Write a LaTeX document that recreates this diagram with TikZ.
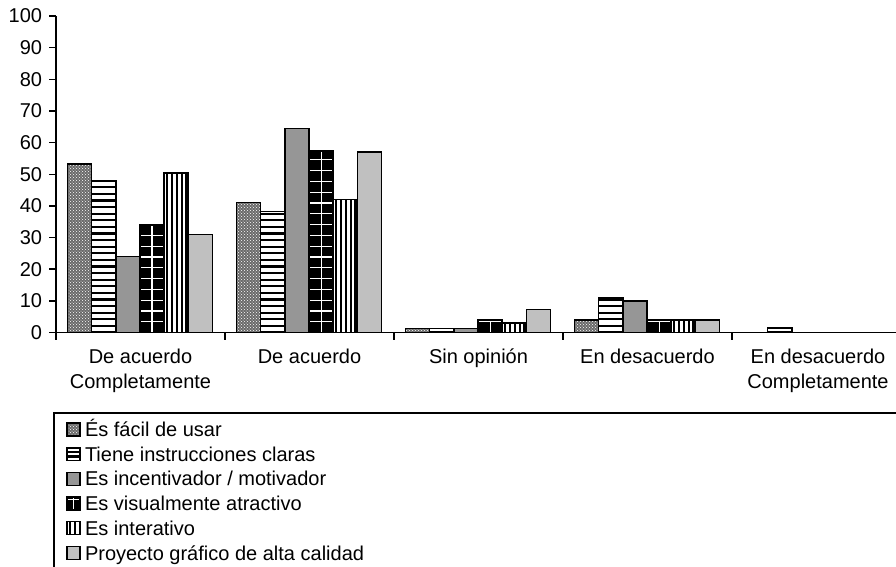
\documentclass[tikz,border=0pt]{standalone}
\usepackage{fontspec}
\setmainfont{Liberation Sans}
\usetikzlibrary{patterns}
\definecolor{gmid}{HTML}{969696}
\definecolor{glight}{HTML}{C0C0C0}
\definecolor{gdot}{HTML}{6A6A6A}

\def\hper{6.6}
% #1 type, #2 x left, #3 y top, #4 x right, #5 y bottom, #6 border width
\newcommand\patrect[6]{%
  \begin{scope}
    \clip (#2,#3) rectangle (#4,#5);
    \ifcase#1\relax
    \or
      \fill[gdot] (#2,#3) rectangle (#4,#5);
      \fill[pattern=crosshatch dots, pattern color=white] (#2,#3) rectangle (#4,#5);
    \or
      \fill[white] (#2,#3) rectangle (#4,#5);
      \foreach \k in {0,...,40}{\fill[black] (#2,{#5-\k*\hper+1.1}) rectangle (#4,{#5-\k*\hper-1.1});}
    \or
      \fill[gmid] (#2,#3) rectangle (#4,#5);
    \or
      \fill[black] (#2,#3) rectangle (#4,#5);
      \foreach \k in {1,...,30}{\draw[white,line width=1.2pt] (#2,{#5-\k*10.8}) -- (#4,{#5-\k*10.8});}
      \draw[white,line width=1.2pt] ({(#2+#4)/2},#3) -- ({(#2+#4)/2},#5);
    \or
      \fill[white] (#2,#3) rectangle (#4,#5);
      \foreach \k in {0,...,5}{\fill[black] ({#2+2+\k*4.8},#3) rectangle ({#2+4.2+\k*4.8},#5);}
    \or
      \fill[glight] (#2,#3) rectangle (#4,#5);
    \fi
  \end{scope}
  \draw[line width=#6pt,black] (#2,#3) rectangle (#4,#5);
}

\begin{document}
\begin{tikzpicture}[x=1pt,y=-1pt,
  txt/.style={font=\fontsize{20}{24}\selectfont, inner sep=0pt, outer sep=0pt},
  axisline/.style={line width=1.5pt, black}]
\useasboundingbox (0,0) rectangle (896,566);
\fill[white] (0,0) rectangle (896,566);

% bars
\foreach \g/\vals in {0/{53.3,47.8,24,34,50.4,31},
                      1/{41.1,38.2,64.5,57.3,42.1,57.1},
                      2/{1.3,1.3,1.3,4,3,7.2},
                      3/{4,11.1,10,4,4,4},
                      4/{0,1.4,0,0,0,0}}{
  \foreach \v [count=\b] in \vals {
    \ifdim \v pt>0pt
      \pgfmathsetmacro\xl{56+169*\g+11.5+24.17*(\b-1)}
      \pgfmathsetmacro\xr{\xl+24.17}
      \pgfmathsetmacro\yt{332.5-3.165*\v}
      \patrect{\b}{\xl}{\yt}{\xr}{332.5}{1.5}
    \fi
  }
}

% axes
\draw[axisline] (56,16) -- (56,332.5) -- (896,332.5);
\foreach \t in {0,10,...,100}{
  \draw[axisline] (49,{332.5-3.165*\t}) -- (56,{332.5-3.165*\t});
  \node[txt, anchor=east] (yl\t) at (42,{332.5-3.165*\t}) {\t};
}
\foreach \g in {0,...,4}{
  \draw[axisline] ({56+169*\g},332.5) -- ({56+169*\g},340);
}

% category labels
\node[txt, anchor=base] (c1a) at (140.5,363) {De acuerdo};
\node[txt, anchor=base] (c1b) at (140.5,388) {Completamente};
\node[txt, anchor=base] (c2a) at (309.5,363) {De acuerdo};
\node[txt, anchor=base] (c3a) at (478.5,363) {Sin opinión};
\node[txt, anchor=base] (c4a) at (647.5,363) {En desacuerdo};
\node[txt, anchor=base] (c5a) at (818,363) {En desacuerdo};
\node[txt, anchor=base] (c5b) at (818,388) {Completamente};

% legend
\draw[axisline] (54,570) -- (54,413) -- (900,413);
\def\hper{4.3}
\foreach \i/\lab in {1/{És fácil de usar},
                     2/{Tiene instrucciones claras},
                     3/{Es incentivador / motivador},
                     4/{Es visualmente atractivo},
                     5/{Es interativo},
                     6/{Proyecto gráfico de alta calidad}}{
  \pgfmathsetmacro\bl{436.5+24.7*(\i-1)}
  \patrect{\i}{67}{\bl-13.5}{80}{\bl-0.5}{1.3}
  \node[txt, anchor=base west] (lg\i) at (85,\bl) {\lab};
}
\end{tikzpicture}
\end{document}
